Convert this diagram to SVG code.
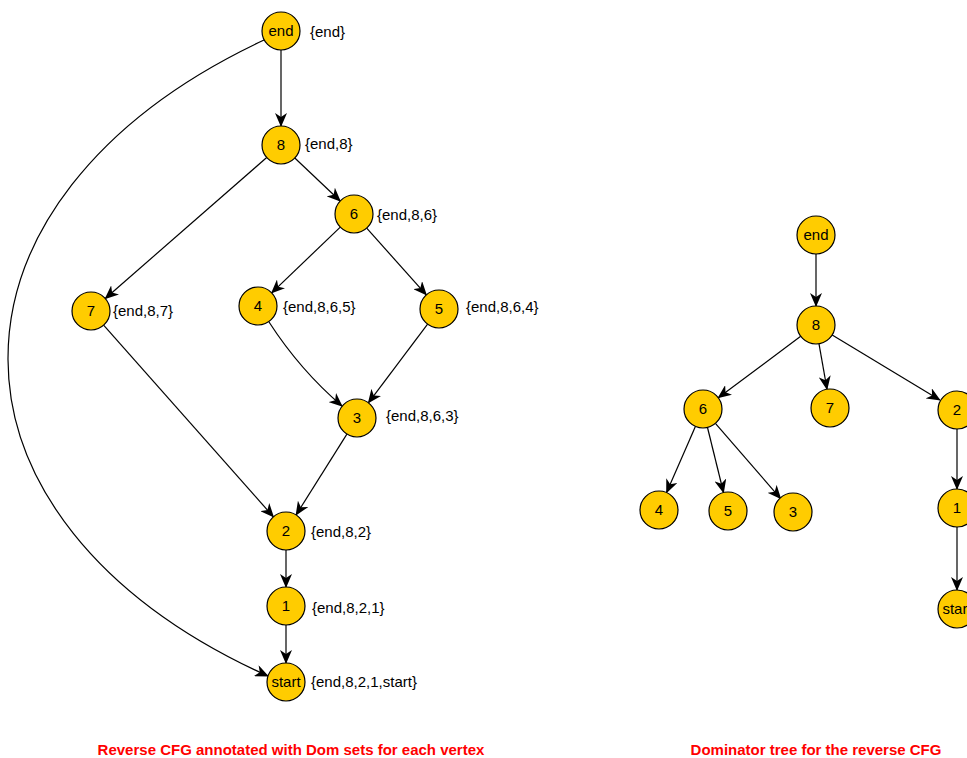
<svg xmlns="http://www.w3.org/2000/svg" width="967" height="758" viewBox="0 0 967 758">
<style>
.n circle{fill:#FFCC00;stroke:#000;stroke-width:1.2}
.n text{font-family:"Liberation Sans",Arial,sans-serif;font-size:15px;text-anchor:middle;fill:#000}
.lbl{font-family:"Liberation Sans",Arial,sans-serif;font-size:15px;fill:#000}
.e path,.e line{fill:none;stroke:#000;stroke-width:1.2;marker-end:url(#arr)}
.title{font-family:"Liberation Sans",Arial,sans-serif;font-size:15px;font-weight:bold;fill:#FF0000;text-anchor:middle}
</style>
<defs>
<marker id="arr" markerUnits="userSpaceOnUse" markerWidth="14" markerHeight="12" refX="13" refY="6" orient="auto">
<path d="M0,0 L14,6 L0,12 L4,6 Z" fill="#000"/>
</marker>
</defs>
<rect width="967" height="758" fill="#fff"/>
<g id="connectors" class="e">
<line x1="281" y1="50" x2="281" y2="126"/>
<line x1="294.8" y1="158" x2="340.2" y2="201"/>
<line x1="266.7" y1="157.5" x2="105.3" y2="298.5"/>
<line x1="340.3" y1="227.1" x2="271.7" y2="292.9"/>
<line x1="366.7" y1="228.2" x2="426.3" y2="294.8"/>
<path d="M269,322 Q300,370 342,406"/>
<line x1="427.6" y1="324.2" x2="368.4" y2="402.8"/>
<line x1="103.6" y1="325.2" x2="273.4" y2="516.8"/>
<line x1="346.9" y1="434.1" x2="296.1" y2="514.9"/>
<line x1="286" y1="550" x2="286" y2="587"/>
<line x1="286" y1="625" x2="286" y2="663"/>
<path d="M264,40 C-78,200 -78,520 268,676"/>
<line x1="816" y1="254" x2="816" y2="306"/>
<line x1="800.7" y1="336.3" x2="718.3" y2="397.7"/>
<line x1="819" y1="343.8" x2="827" y2="389.2"/>
<line x1="832.2" y1="334.9" x2="939.8" y2="400.1"/>
<line x1="695.4" y1="426.4" x2="666.6" y2="492.6"/>
<line x1="707.5" y1="427.5" x2="723.5" y2="492.5"/>
<line x1="715.4" y1="423.4" x2="780.6" y2="498.6"/>
<line x1="957" y1="429" x2="957" y2="489"/>
<line x1="957" y1="527" x2="957" y2="590"/>
</g>
<g id="L_end" class="n"><circle cx="281" cy="31" r="19"/><text x="281" y="36">end</text></g>
<g id="L_8" class="n"><circle cx="281" cy="145" r="19"/><text x="281" y="150">8</text></g>
<g id="L_6" class="n"><circle cx="354" cy="214" r="19"/><text x="354" y="219">6</text></g>
<g id="L_7" class="n"><circle cx="91" cy="311" r="19"/><text x="91" y="316">7</text></g>
<g id="L_4" class="n"><circle cx="258" cy="306" r="19"/><text x="258" y="311">4</text></g>
<g id="L_5" class="n"><circle cx="439" cy="309" r="19"/><text x="439" y="314">5</text></g>
<g id="L_3" class="n"><circle cx="357" cy="418" r="19"/><text x="357" y="423">3</text></g>
<g id="L_2" class="n"><circle cx="286" cy="531" r="19"/><text x="286" y="536">2</text></g>
<g id="L_1" class="n"><circle cx="286" cy="606" r="19"/><text x="286" y="611">1</text></g>
<g id="L_start" class="n"><circle cx="286" cy="682" r="19"/><text x="286" y="687">start</text></g>
<g id="labels">
<text class="lbl" x="310" y="37">{end}</text>
<text class="lbl" x="305" y="149">{end,8}</text>
<text class="lbl" x="377" y="220">{end,8,6}</text>
<text class="lbl" x="113" y="316">{end,8,7}</text>
<text class="lbl" x="283" y="312">{end,8,6,5}</text>
<text class="lbl" x="466" y="312">{end,8,6,4}</text>
<text class="lbl" x="386" y="421">{end,8,6,3}</text>
<text class="lbl" x="311" y="537">{end,8,2}</text>
<text class="lbl" x="312" y="613">{end,8,2,1}</text>
<text class="lbl" x="311" y="687">{end,8,2,1,start}</text>
</g>
<g id="R_end" class="n"><circle cx="816" cy="235" r="19"/><text x="816" y="240">end</text></g>
<g id="R_8" class="n"><circle cx="816" cy="325" r="19"/><text x="816" y="330">8</text></g>
<g id="R_6" class="n"><circle cx="703" cy="409" r="19"/><text x="703" y="414">6</text></g>
<g id="R_7" class="n"><circle cx="830" cy="408" r="19"/><text x="830" y="413">7</text></g>
<g id="R_2" class="n"><circle cx="957" cy="410" r="19"/><text x="957" y="415">2</text></g>
<g id="R_4" class="n"><circle cx="659" cy="510" r="19"/><text x="659" y="515">4</text></g>
<g id="R_5" class="n"><circle cx="728" cy="511" r="19"/><text x="728" y="516">5</text></g>
<g id="R_3" class="n"><circle cx="793" cy="512" r="19"/><text x="793" y="517">3</text></g>
<g id="R_1" class="n"><circle cx="957" cy="508" r="19"/><text x="957" y="513">1</text></g>
<g id="R_start" class="n"><circle cx="957" cy="609" r="19"/><text x="957" y="614">start</text></g>
<text class="title" x="291" y="755">Reverse CFG annotated with Dom sets for each vertex</text>
<text class="title" x="816" y="755">Dominator tree for the reverse CFG</text>
</svg>
